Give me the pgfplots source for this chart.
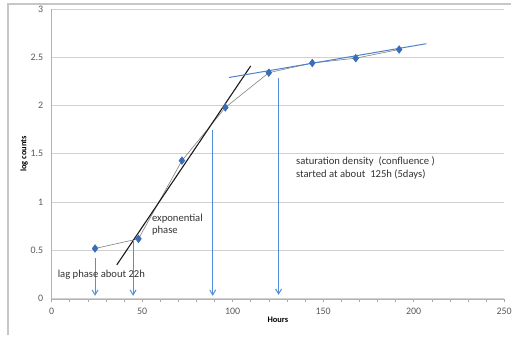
\documentclass[border=0pt]{standalone}
\usepackage{pgfplots}
\pgfplotsset{compat=1.18}
\usepackage{fontspec}
\setmainfont{Carlito}
\usetikzlibrary{arrows.meta}
\definecolor{mkblue}{HTML}{3A6DB8}
\definecolor{arrblue}{HTML}{4F8FDB}
\definecolor{fitblue}{HTML}{4A82CC}
\definecolor{tickgray}{HTML}{595959}
\begin{document}
\begin{tikzpicture}[x=1pt,y=1pt]
\path (0,0) rectangle (515,338);
\draw[black!22, line width=1.2pt] (8,0) -- (8,334) -- (515,334);
\begin{axis}[
  at={(52pt,37pt)}, anchor=south west,
  scale only axis, width=456pt, height=292pt,
  xmin=0, xmax=250, ymin=0, ymax=3,
  xtick={0,50,...,250}, ytick={0,0.5,...,3},
  minor x tick num=4,
  axis y line*=left, axis x line*=bottom,
  axis line style={black!30, -},
  tick style={black!35, line width=0.5pt},
  major tick length=3pt, minor tick length=3pt,
  tick align=outside,
  ytick style={draw=none},
  ymajorgrids, grid style={black!18, line width=0.7pt},
  tick label style={font=\fontsize{10}{11}\selectfont, text=tickgray},
  /pgf/number format/assume math mode=true,
  yticklabel style={xshift=-2pt},
  xticklabel style={yshift=-3pt},
  xlabel={\textbf{Hours}}, ylabel={\textbf{log counts}},
  label style={font=\fontsize{8.5}{9}\selectfont},
  xlabel style={yshift=4pt},
  ylabel style={yshift=-4pt},
  clip=false,
]
% data series with connecting gray line
\addplot[color=black!50, line width=0.6pt, mark=diamond*, mark size=3.8pt,
  mark options={fill=mkblue, draw=mkblue}] coordinates {
  (24,0.52) (48,0.62) (72,1.43) (96,1.98) (120,2.34) (144,2.44) (168,2.49) (192,2.58)
};
% exponential fit line
\addplot[black!90, line width=1.1pt] coordinates {(36,0.35) (110,2.41)};
% saturation fit line
\addplot[fitblue, line width=1pt] coordinates {(98,2.29) (207,2.64)};
% arrows
\addplot[arrblue, line width=1pt, -{Straight Barb[length=5pt,width=6pt]}] coordinates {(24,0.42) (24,0.03)};
\addplot[arrblue, line width=1pt, -{Straight Barb[length=5pt,width=6pt]}] coordinates {(45,0.61) (45,0.03)};
\addplot[arrblue, line width=1pt, -{Straight Barb[length=5pt,width=6pt]}] coordinates {(89,1.75) (89,0.03)};
\addplot[arrblue, line width=1pt, -{Straight Barb[length=5pt,width=6pt]}] coordinates {(125.4,2.28) (125.4,0.04)};
% annotations
\node[anchor=west, font=\fontsize{10.7}{12}\selectfont, text=black!80, inner sep=0pt] at (axis cs:3.3,0.25) {lag phase about 22h};
\node[anchor=west, align=left, font=\fontsize{10.7}{12}\selectfont, text=black!80, inner sep=0pt] at (axis cs:55.4,0.77) {exponential\\phase};
\node[anchor=west, align=left, font=\fontsize{10.7}{12.5}\selectfont, text=black!80, inner sep=0pt] at (axis cs:135,1.355) {saturation density \ (confluence )\\started at about \ 125h (5days)};
\end{axis}
\end{tikzpicture}
\end{document}
